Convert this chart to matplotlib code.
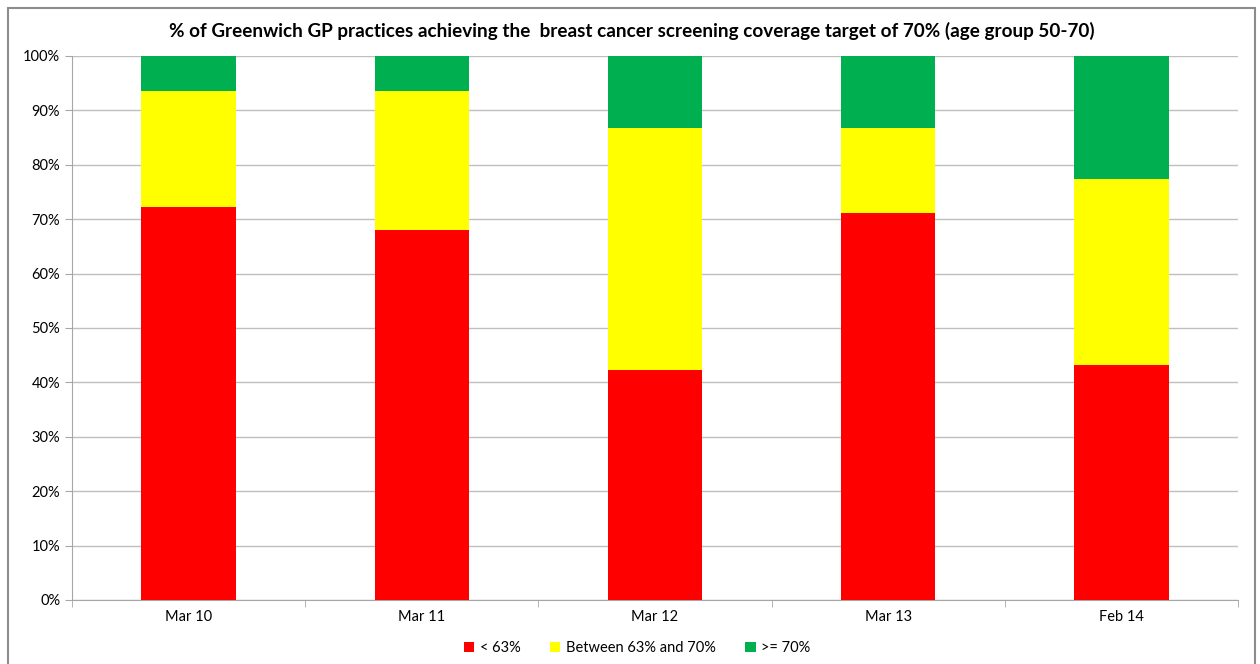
import matplotlib
matplotlib.use("Agg")
import matplotlib.pyplot as plt
from matplotlib.patches import Rectangle
from matplotlib.ticker import PercentFormatter
import numpy as np

# Data (share of practices, %)
periods = ["Mar 10", "Mar 11", "Mar 12", "Mar 13", "Feb 14"]
below_63 = [72.3, 68.1, 42.2, 71.1, 43.2]
between_63_70 = [21.3, 25.5, 44.5, 15.6, 34.1]
above_70 = [6.4, 6.4, 13.3, 13.3, 22.7]

series_labels = ["< 63%", "Between 63% and 70%", ">= 70%"]
series_colors = ["#FF0000", "#FFFF00", "#00B050"]

plt.rcParams["font.family"] = ["Lato", "DejaVu Sans"]

fig = plt.figure(figsize=(12.6, 6.64), dpi=100)
ax = fig.add_axes([0.0571, 0.0964, 0.9254, 0.8193])

x = np.arange(len(periods))
bottom = np.zeros(len(periods))
for vals, lab, col in zip([below_63, between_63_70, above_70], series_labels, series_colors):
    ax.bar(x, vals, width=0.405, bottom=bottom, color=col, label=lab, zorder=3)
    bottom += np.array(vals)

ax.set_xlim(-0.5, len(periods) - 0.5)
ax.set_ylim(0, 100)
ax.set_yticks(np.arange(0, 101, 10))
ax.yaxis.set_major_formatter(PercentFormatter(decimals=0))
ax.set_xticks(x)
ax.set_xticklabels(periods)
ax.set_xticks(np.arange(-0.5, len(periods), 1), minor=True)

ax.grid(axis="y", color="#BFBFBF", linewidth=1, zorder=0)
for side in ["top", "right"]:
    ax.spines[side].set_visible(False)
for side in ["left", "bottom"]:
    ax.spines[side].set_color("#A6A6A6")
ax.tick_params(axis="x", which="major", length=0, labelsize=10.5, pad=7)
ax.tick_params(axis="x", which="minor", length=5, color="#A6A6A6")
ax.tick_params(axis="y", length=5, color="#A6A6A6", labelsize=10.5)

ax.set_title("% of Greenwich GP practices achieving the  breast cancer screening coverage target of 70% (age group 50-70)",
             fontsize=13.6, fontweight="bold", pad=14, x=0.48)

ax.legend(loc="center", bbox_to_anchor=(0.485, -0.088), ncol=3, frameon=False,
          fontsize=10.5, handlelength=0.7, handleheight=0.7, columnspacing=2.0, handletextpad=0.4)

# chart area border like the Excel original
fig.patches.append(Rectangle((8 / 1260, -0.02), 1247 / 1260, 1.02 - 8 / 664,
                             transform=fig.transFigure, fill=False, edgecolor="#8C8C8C", linewidth=1.5))

fig.savefig("out.png", dpi=100)
